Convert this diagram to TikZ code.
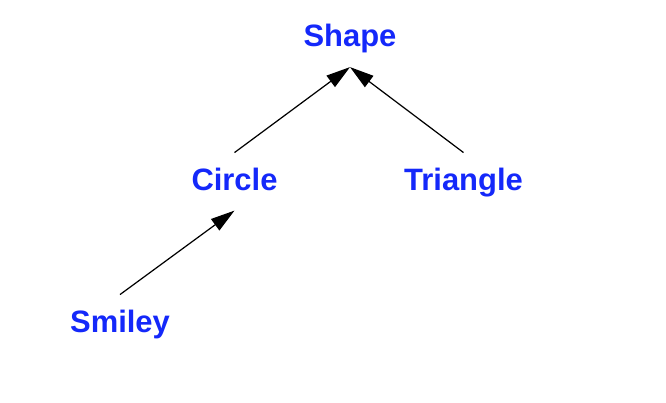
\documentclass[tikz,border=0pt]{standalone}
\usepackage{fontspec}
\setmainfont{Liberation Sans}
\usetikzlibrary{positioning,arrows.meta}
\definecolor{clsblue}{RGB}{20,40,250}
\tikzstyle{cls}=[text=clsblue, font=\fontsize{17.6}{21}\selectfont\bfseries, anchor=base, inner ysep=0.25cm, text height=14pt, text depth=4.4pt]
\tikzstyle{isa}=[-{Triangle[length=4.8mm,width=2.8mm]}, line width=0.7pt]

\begin{document}
\begin{tikzpicture}
	\useasboundingbox (0,0) rectangle (13.32,-8.04);
	\node[cls] (Shape) at (7.0,-0.93) {Shape};
	\node[cls] (Circle) at (4.69,-3.80) {Circle};
	\node[cls] (Triangle) at (9.27,-3.80) {Triangle};
	\node[cls] (Smiley) at (2.4,-6.64) {Smiley};

	\draw[isa] (Circle.north) -- (Shape.south);
	\draw[isa] (Triangle.north) -- (Shape.south);
	\draw[isa] (Smiley.north) -- (Circle.south);
\end{tikzpicture}
\end{document}
